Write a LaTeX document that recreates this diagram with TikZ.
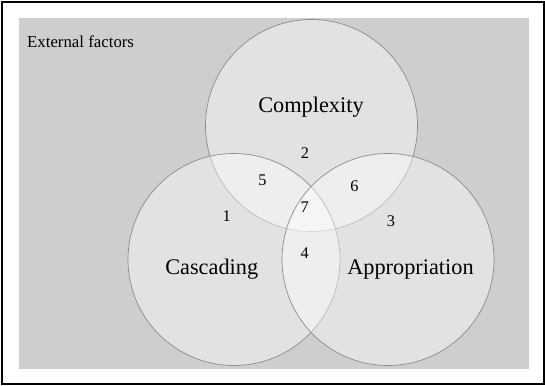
\documentclass[tikz,border=0pt]{standalone}
\usepackage{fontspec}
\setmainfont{Liberation Serif}
\definecolor{bggray}{HTML}{CECECE}
\definecolor{edgegray}{HTML}{8C8C8C}
\begin{document}
\begin{tikzpicture}[x=1pt,y=-1pt,
  setcircle/.style={draw=edgegray,line width=0.7pt,fill=white,fill opacity=0.42},
  biglabel/.style={font=\fontsize{22.3}{26}\selectfont,anchor=base,inner sep=0pt},
  numlabel/.style={font=\fontsize{16.3}{19}\selectfont,anchor=center,inner sep=0pt}]
\useasboundingbox (0,0) rectangle (545,385);
\draw[line width=1.8pt] (1.8,2.2) rectangle (543.6,383.8);
\fill[bggray] (19,18.5) rectangle (529,368.5);
\node[anchor=base west,inner sep=0pt,font=\fontsize{16.8}{20}\selectfont] (ext) at (27,47.7) {External factors};
\coordinate (ctop) at (311.5,125.5);
\coordinate (cleft) at (234,259.5);
\coordinate (cright) at (388,259.5);
\path[setcircle] (ctop) circle[radius=106pt];
\path[setcircle] (cleft) circle[radius=106pt];
\path[setcircle] (cright) circle[radius=106pt];
\node[biglabel] (complexity) at (311,112.3) {Complexity};
\node[biglabel] (cascading) at (211.7,274) {Cascading};
\node[biglabel] (appropriation) at (410.5,274) {Appropriation};
\node[numlabel] (n1) at (226.6,216) {1};
\node[numlabel] (n2) at (305,153.3) {2};
\node[numlabel] (n3) at (391,220.7) {3};
\node[numlabel] (n4) at (304.8,253.3) {4};
\node[numlabel] (n5) at (262.4,180.7) {5};
\node[numlabel] (n6) at (354.5,185.7) {6};
\node[numlabel] (n7) at (304.8,206.7) {7};
\end{tikzpicture}
\end{document}
